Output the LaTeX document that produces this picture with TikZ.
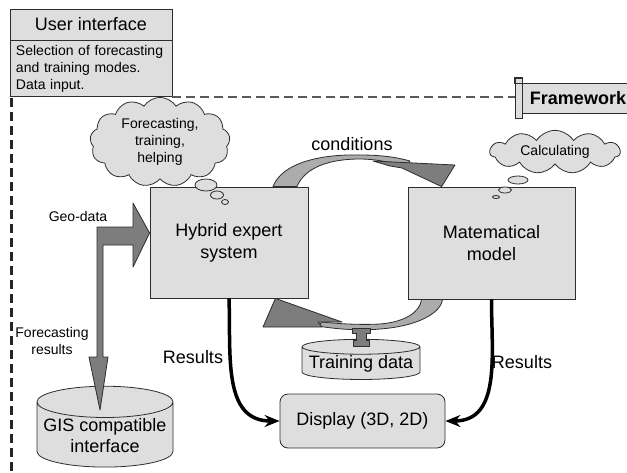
\documentclass[tikz,border=0pt]{standalone}
\usepackage{fontspec}
\setmainfont{Liberation Sans}
\usetikzlibrary{calc, arrows.meta, positioning, shapes.geometric, shapes.symbols}
\definecolor{boxgray}{RGB}{222,222,222}
\definecolor{darkarrow}{RGB}{125,125,125}
\definecolor{lightarrow}{RGB}{172,172,172}
\definecolor{edge}{RGB}{45,45,45}

\begin{document}
\begin{tikzpicture}[
    x=1pt, y=-1pt,
    box/.style={draw=edge, fill=boxgray, line width=0.8pt, align=center, font=\fontsize{18}{22}\selectfont},
    thought/.style={cloud, cloud puffs=13, cloud puff arc=115, cloud ignores aspect, draw=edge, fill=boxgray, line width=0.8pt, align=center, font=\fontsize{14}{17}\selectfont},
    bubble/.style={draw=edge, fill=boxgray, line width=0.8pt},
    store/.style={cylinder, shape border rotate=90, draw=edge, fill=boxgray, line width=0.8pt, align=center, font=\fontsize{18}{21}\selectfont},
    block/.style={draw=edge, line width=0.8pt, line join=round},
    res arrow/.style={-{Stealth[length=15pt, width=12pt, inset=5pt]}, line width=3.5pt},
    label node/.style={font=\fontsize{18}{20}\selectfont},
    small label/.style={font=\fontsize{14}{17}\selectfont, align=center}
]
\clip (0,0) rectangle (627,472);

% User interface
\node[box, minimum width=162pt, minimum height=31pt] (uititle) at (91,24.5) {User interface};
\node[box, below=0pt of uititle, minimum width=162pt, minimum height=56pt, text width=150pt,
      align=left, font=\fontsize{14}{17}\selectfont] (uibody) {Selection of forecasting\\and training modes.\\Data input.};

% Framework flag
\node[box, minimum width=112pt, minimum height=30pt, font=\fontsize{18}{20}\selectfont\bfseries] (fw) at (578,98) {Framework};
\node[box, minimum width=7pt, minimum height=40pt, inner sep=0pt] (pole) at (518.5,98) {};
\draw[edge, line width=0.6pt] (pole.north west) rectangle ($(pole.north east)+(0,6)$);

% Framework border
\draw[black!65, line width=2pt, dash pattern=on 9pt off 5pt] (uibody.south east) -- (uibody.south east -| pole.west);
\draw[black!85, line width=3pt, dash pattern=on 9pt off 5pt] ($(uibody.south west)+(1.5,1)$) -- ++(0,380);

% Main Nodes
\node[box, minimum width=158pt, minimum height=111pt] (hes) at (229,242.5) {Hybrid expert\\system};
\node[box, minimum width=167pt, minimum height=112pt] (mm) at (491.5,243) {Matematical\\model};
\node[store, minimum width=118pt, minimum height=36pt, aspect=0.14, inner sep=1pt] (train) at (361,364) {Training data};
\node[box, rounded corners=8pt, minimum width=165pt, minimum height=54pt] (disp) at (362.5,421) {Display (3D, 2D)};
\node[store, minimum width=136pt, minimum height=68pt, aspect=0.25, inner sep=1pt] (gis) at (105,436) {GIS compatible\\interface};

% Thought clouds
\node[thought, minimum width=140pt, minimum height=82pt] (think) at (160,142) {Forecasting,\\training,\\helping};
\node[thought, cloud puffs=11, minimum width=130pt, minimum height=38pt] (calc) at (555,152) {Calculating};
\filldraw[bubble] (206,185) ellipse (11pt and 6pt);
\filldraw[bubble] (217,195) ellipse (6.5pt and 4pt);
\filldraw[bubble] (225,202) ellipse (3.5pt and 2.5pt);
\filldraw[bubble] (518,180) ellipse (10pt and 4pt);
\filldraw[bubble] (505,190) ellipse (6.5pt and 3pt);
\filldraw[bubble] (496,197) ellipse (3.5pt and 1.5pt);

% Conditions arrow
\filldraw[block, fill=lightarrow] ($(hes.north)+(44,0)$) .. controls (282,163) and (320,154) .. (360,155)
    .. controls (380,155) and (396,157) .. (410,161) -- (405,167)
    .. controls (390,162) and (375,159) .. (360,159) .. controls (330,159) and (305,167) .. ($(hes.north)+(68,0)$) -- cycle;
\filldraw[block, fill=darkarrow] (373,161) -- (455,165) -- ($(mm.north west)+(34,0)$) -- (402,168) -- (390,166) -- cycle;
\node[label node] (cond) at (352,144) {conditions};

% Training arrow
\filldraw[block, fill=lightarrow] ($(mm.south west)+(35,0)$) .. controls (441,312) and (420,326) .. (380,329)
    .. controls (360,331) and (335,329) .. (318,326) -- (322,322)
    .. controls (340,324) and (362,325) .. (380,324) .. controls (405,322) and (420,312) .. ($(mm.south west)+(14,0)$) -- cycle;
\filldraw[block, fill=darkarrow] ($(hes.south east)+(-33,0)$) -- (342,322) -- (318,322) -- (322,327) -- (263,327) -- cycle;
\filldraw[block, fill=darkarrow] (352,328) -- (370,328) -- (370,333) -- (366,333) -- (366,340) -- (369,340)
    -- (369,346) -- (353,346) -- (353,340) -- (356,340) -- (356,333) -- (352,333) -- cycle;

% Geo-data arrow
\filldraw[block, fill=darkarrow] (97,227) -- (133,227) -- (133,203) -- (hes.west |- 0,233) -- (133,267) -- (133,245)
    -- (103,245) -- (103,357) -- (108,357) -- (100,410) -- (89,357) -- (97,357) -- cycle;
\node[small label] (geo) at (78,216) {Geo-data};
\node[small label] (fres) at (52,341) {Forecasting\\results};

% Results arrows
\draw[res arrow] (hes.south) to[out=-88, in=180, looseness=1.1] (disp.west);
\draw[res arrow] (mm.south) to[out=-90, in=0, looseness=1.1] (disp.east);
\node[label node] (res1) at (193,357) {Results};
\node[label node] (res2) at (522,362) {Results};
\end{tikzpicture}
\end{document}
